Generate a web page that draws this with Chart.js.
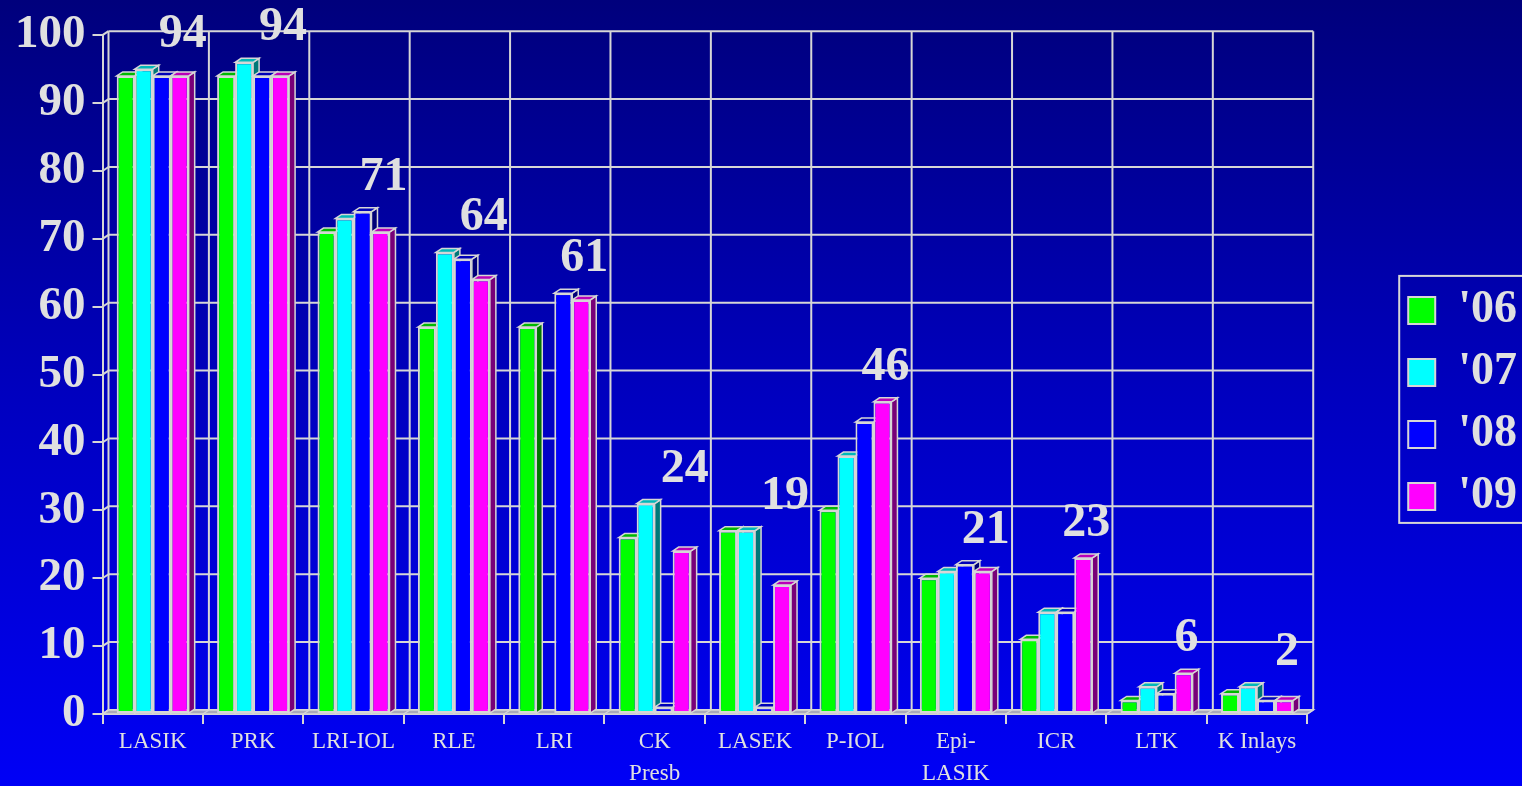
<!DOCTYPE html>
<html>
<head>
<meta charset="utf-8">
<script src="https://cdn.jsdelivr.net/npm/chart.js@4.4.1/dist/chart.umd.min.js"></script>
<style>
html,body{margin:0;padding:0;overflow:hidden;}
body{width:1522px;height:786px;background:linear-gradient(180deg,#00007c 0%,#0000bf 50%,#0000f6 100%);}
#wrap{position:absolute;left:0;top:0;width:1522px;height:786px;overflow:hidden;}
canvas{display:block;}
</style>
</head>
<body>
<div id="wrap"><canvas id="c" width="1527" height="786"></canvas></div>
<script>
// ---- data ----
const categories = ['LASIK', 'PRK', 'LRI-IOL', 'RLE', 'LRI', ['CK', 'Presb'], 'LASEK', 'P-IOL', ['Epi-', 'LASIK'], 'ICR', 'LTK', 'K Inlays'];
const seriesNames = ["'06", "'07", "'08", "'09"];
const v06 = [94, 94, 71, 57, 57, 26, 27, 30, 20, 11, 2, 3];
const v07 = [95, 96, 73, 68, 0, 31, 27, 38, 21, 15, 4, 4];
const v08 = [94, 94, 74, 67, 62, 1, 1, 43, 22, 15, 3, 2];
const v09 = [94, 94, 71, 64, 61, 24, 19, 46, 21, 23, 6, 2];
const yTicks = [0, 10, 20, 30, 40, 50, 60, 70, 80, 90, 100];

// ---- styles ----
const frontColors = ['#00ff00', '#00ffff', '#0000ff', '#ff00ff'];
const topColors = ['#00b800', '#00b8b8', '#0000b8', '#b800b8'];
const sideColors = ['#007800', '#007878', '#000078', '#780078'];
const LINE = '#d6d6d6';
const TEXT = '#e0e0e0';
const SERIF = "'Liberation Serif', 'Times New Roman', serif";
const DX = 6, DY = -4;

function poly(ctx, pts, fill, stroke, lw) {
  ctx.beginPath();
  ctx.moveTo(pts[0][0], pts[0][1]);
  for (let i = 1; i < pts.length; i++) ctx.lineTo(pts[i][0], pts[i][1]);
  ctx.closePath();
  if (fill) { ctx.fillStyle = fill; ctx.fill(); }
  if (stroke) { ctx.strokeStyle = stroke; ctx.lineWidth = lw || 1.5; ctx.stroke(); }
}
function line(ctx, x1, y1, x2, y2) {
  ctx.beginPath(); ctx.moveTo(x1, y1); ctx.lineTo(x2, y2); ctx.stroke();
}

const backdrop3d = {
  id: 'backdrop3d',
  beforeDatasetsDraw(chart) {
    const ctx = chart.ctx;
    const ys = chart.scales.y, xs = chart.scales.x;
    const {left, right, bottom} = chart.chartArea;
    const yTop = ys.getPixelForValue(yTicks[yTicks.length - 1]);
    ctx.save();
    ctx.strokeStyle = LINE; ctx.lineWidth = 2;
    ys.ticks.forEach(t => {
      const py = ys.getPixelForValue(t.value);
      line(ctx, left, py, left + DX, py + DY);
      line(ctx, left + DX, py + DY, right + DX, py + DY);
    });
    for (let i = 0; i <= categories.length; i++) {
      const bx = xs.getPixelForValue(i - 0.5);
      line(ctx, bx + DX, yTop + DY, bx + DX, bottom + DY);
    }
    poly(ctx, [[left, bottom], [left + DX, bottom + DY], [right + DX, bottom + DY], [right, bottom]], '#a9a9b9', LINE, 1.5);
    for (let i = 0; i <= categories.length; i++) {
      const bx = xs.getPixelForValue(i - 0.5);
      ctx.lineWidth = 1.5;
      line(ctx, bx, bottom, bx + DX, bottom + DY);
    }
    chart.data.datasets.forEach((ds, di) => {
      const meta = chart.getDatasetMeta(di);
      meta.data.forEach((bar, i) => {
        if (!ds.data[i]) return;
        const p = bar.getProps(['x', 'y', 'base', 'width'], true);
        const l = p.x - p.width / 2, r = p.x + p.width / 2;
        poly(ctx, [[r, p.y], [r + DX, p.y + DY], [r + DX, p.base + DY], [r, p.base]], sideColors[di], LINE, 1.5);
        poly(ctx, [[l, p.y], [l + DX, p.y + DY], [r + DX, p.y + DY], [r, p.y]], topColors[di], LINE, 1.5);
      });
    });
    ctx.restore();
  },
  afterDatasetsDraw(chart) {
    const ctx = chart.ctx;
    const metaLast = chart.getDatasetMeta(3);
    ctx.save();
    ctx.fillStyle = TEXT;
    ctx.font = "bold 48px " + SERIF;
    ctx.textAlign = 'center';
    ctx.textBaseline = 'alphabetic';
    categories.forEach((c, i) => {
      let top = Infinity;
      chart.data.datasets.forEach((ds, di) => {
        top = Math.min(top, chart.getDatasetMeta(di).data[i].y);
      });
      ctx.fillText(String(v09[i]), metaLast.data[i].x + 3, top - 22);
    });
    const L = chart.legend;
    if (L && L.legendHitBoxes && L.legendHitBoxes.length) {
      const hb = L.legendHitBoxes;
      const first = hb[0], last = hb[hb.length - 1];
      ctx.strokeStyle = LINE; ctx.lineWidth = 2;
      ctx.strokeRect(first.left - 9, first.top - 11.5, 200, (last.top + last.height + 3.5) - (first.top - 11.5));
    }
    ctx.restore();
  }
};

const datasets = [v06, v07, v08, v09].map((vals, di) => ({
  label: seriesNames[di],
  data: vals,
  backgroundColor: frontColors[di],
  borderColor: LINE,
  borderWidth: 2,
  borderSkipped: false,
  categoryPercentage: 0.717,
  barPercentage: 1.0
}));

new Chart(document.getElementById('c'), {
  type: 'bar',
  data: { labels: categories, datasets },
  plugins: [backdrop3d],
  options: {
    responsive: false,
    devicePixelRatio: 1,
    animation: false,
    layout: { padding: { left: 8, top: 16, right: 0, bottom: 0 } },
    scales: {
      x: {
        offset: true,
        afterFit: s => { s.height = s.height - 6; },
        grid: { display: true, drawOnChartArea: false, drawTicks: true, tickLength: 10, color: LINE, lineWidth: 2, offset: true },
        border: { display: true, color: LINE, width: 2 },
        ticks: { color: TEXT, font: { family: SERIF, size: 23, lineHeight: 32 / 23 }, padding: 2, maxRotation: 0, autoSkip: false }
      },
      y: {
        min: 0, max: 100,
        afterBuildTicks: s => { s.ticks = yTicks.map(v => ({ value: v })); },
        grid: { display: true, drawOnChartArea: false, drawTicks: true, tickLength: 10, color: LINE, lineWidth: 2 },
        border: { display: true, color: LINE, width: 2 },
        ticks: { color: TEXT, font: { family: SERIF, size: 47, weight: 'bold' }, padding: 7 }
      },
      yr: {
        position: 'right',
        grid: { display: false },
        border: { display: false },
        ticks: { display: false },
        afterFit: s => { s.width = 85; }
      }
    },
    plugins: {
      tooltip: { enabled: false },
      legend: {
        position: 'right',
        align: 'center',
        title: { display: true, text: ' ', padding: 0, font: { size: 4 } },
        labels: {
          color: TEXT,
          font: { family: SERIF, size: 46, weight: 'bold' },
          boxWidth: 27, boxHeight: 27, padding: 16
        }
      }
    }
  }
});
</script>
</body>
</html>
